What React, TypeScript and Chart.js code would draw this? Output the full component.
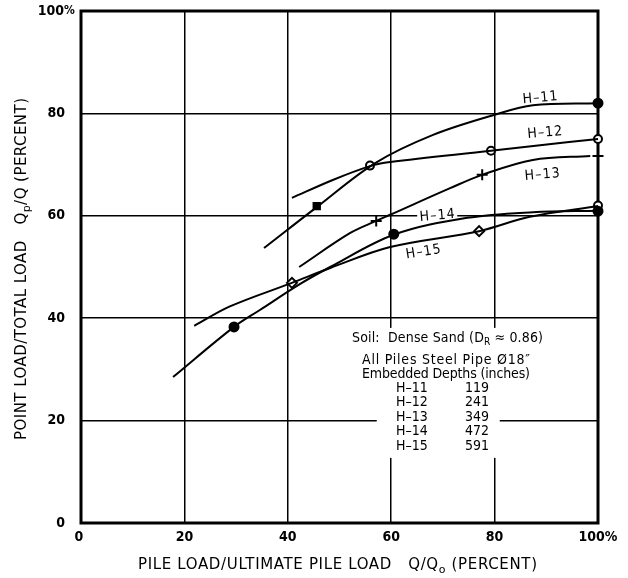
import React, { useEffect, useRef } from "react";
import { Chart, registerables } from "chart.js";
Chart.register(...registerables);

// ---- data (percent) ----
const xTickValues = [0, 20, 40, 60, 80, 100];
const xTickLabels = ["0", "20", "40", "60", "80", "100%"];
const yTickValues = [0, 20, 40, 60, 80, 100];
const yTickLabels = ["0", "20", "40", "60", "80", "100%"];

const seriesNames = ["H–11", "H–12", "H–13", "H–14", "H–15"];
const embeddedDepths = ["119", "241", "349", "472", "591"];

// curves
const h11X = [35.4, 45.6, 56.9, 68.1, 79.9, 87.4, 100];
const h11Y = [53.7, 61.7, 70.3, 75.8, 79.7, 81.6, 82.0];
const h12X = [40.8, 48.7, 55.9, 59.8, 79.3, 88.8, 100];
const h12Y = [63.5, 67.0, 69.7, 70.5, 72.7, 73.8, 75.0];
const h13X = [42.2, 52.0, 57.1, 59.8, 71.4, 77.6, 87.4, 98.5];
const h13Y = [50.0, 56.6, 59.0, 60.2, 65.4, 68.0, 70.9, 71.7];
const h14X = [17.8, 29.6, 34.6, 42.4, 48.2, 60.5, 74.7, 87.4, 100];
const h14Y = [28.5, 38.3, 41.6, 46.7, 50.0, 56.3, 59.6, 60.7, 61.0];
const h15X = [21.9, 28.8, 40.8, 48.2, 59.8, 77.0, 86.8, 100];
const h15Y = [38.5, 42.3, 46.9, 49.8, 53.9, 57.0, 59.8, 61.9];

// test points (markers)
const h11SquareX = [45.6];
const h11SquareY = [61.9];
const h11DotX = [100];
const h11DotY = [82.0];
const h12MarkX = [55.9, 79.3, 100];
const h12MarkY = [69.8, 72.7, 75.0];
const h13MarkX = [57.1, 77.6, 100];
const h13MarkY = [59.0, 68.0, 71.7];
const h14MarkX = [29.6, 60.5, 100];
const h14MarkY = [38.3, 56.4, 60.9];
const h15DiamondX = [40.8, 77.0];
const h15DiamondY = [46.9, 57.0];
const h15EndX = [100];
const h15EndY = [62.0];

const pts = (xs: number[], ys: number[]) => xs.map((x, i) => ({ x, y: ys[i] }));

const COND = "'DejaVu Sans Condensed', 'DejaVu Sans', sans-serif";
const WIDE = "'DejaVu Sans', sans-serif";

type Seg = { t: string; sub?: boolean };

function drawRich(
  ctx: CanvasRenderingContext2D,
  segs: Seg[],
  x: number,
  y: number,
  align: "left" | "center" | "right",
  size: number,
  weight = "normal",
  family = COND,
  target = 0
) {
  const f = (s: Seg) => `${weight} ${s.sub ? Math.round(size * 0.72) : size}px ${family}`;
  const c: any = ctx;
  c.letterSpacing = "0px";
  let nchars = 0;
  let natural = 0;
  segs.forEach((s) => {
    ctx.font = f(s);
    natural += ctx.measureText(s.t).width;
    nchars += [...s.t].length;
  });
  const sp = target > 0 ? (target - natural) / Math.max(1, nchars - 1) : 0;
  c.letterSpacing = `${sp}px`;
  const widths = segs.map((s) => {
    ctx.font = f(s);
    return ctx.measureText(s.t).width;
  });
  const total = widths.reduce((a, b) => a + b, 0) - sp;
  let cx = align === "center" ? x - total / 2 : align === "right" ? x - total : x;
  ctx.textAlign = "left";
  ctx.textBaseline = "middle";
  segs.forEach((s, i) => {
    ctx.font = f(s);
    ctx.fillText(s.t, cx, s.sub ? y + size * 0.35 : y);
    cx += widths[i];
  });
  c.letterSpacing = "0px";
  return total;
}

function maskRect(ctx: CanvasRenderingContext2D, cx: number, cy: number, w: number, h: number) {
  ctx.save();
  ctx.fillStyle = "#ffffff";
  ctx.fillRect(cx - w / 2, cy - h / 2, w, h);
  ctx.restore();
}

const curveLabels = [
  { name: 0, x: 88.8, y: 83.0, rot: -5 },
  { name: 1, x: 89.7, y: 76.2, rot: -5 },
  { name: 2, x: 89.2, y: 68.0, rot: -5 },
  { name: 3, x: 68.9, y: 60.0, rot: -5 },
  { name: 4, x: 66.2, y: 52.9, rot: -9 },
];

const decoPlugin = {
  id: "deco",
  beforeDatasetsDraw(chart: any) {
    const ctx: CanvasRenderingContext2D = chart.ctx;
    const xs = chart.scales.x;
    const ys = chart.scales.y;
    const a = chart.chartArea;
    // masks under curve labels
    curveLabels.forEach((l) => {
      maskRect(ctx, xs.getPixelForValue(l.x), ys.getPixelForValue(l.y), 40, 15);
    });
    // mask under the note block
    const top = ys.getPixelForValue(38.5);
    maskRect(ctx, xs.getPixelForValue(70.8), top + 25, 200, 46);
    maskRect(ctx, xs.getPixelForValue(69.1), top + 88, 123, 88);
    // frame
    ctx.save();
    ctx.strokeStyle = "#000";
    ctx.lineWidth = 3;
    ctx.strokeRect(a.left, a.top, a.right - a.left, a.bottom - a.top);
    ctx.restore();
  },
  afterDatasetsDraw(chart: any) {
    const ctx: CanvasRenderingContext2D = chart.ctx;
    const xs = chart.scales.x;
    const ys = chart.scales.y;
    const a = chart.chartArea;
    ctx.save();
    ctx.fillStyle = "#000";

    // y tick labels
    yTickValues.forEach((v, i) => {
      const py = ys.getPixelForValue(v);
      const lab = yTickLabels[i];
      if (lab.endsWith("%")) {
        drawRich(ctx, [{ t: lab.slice(0, -1) }], a.left - 17, py, "right", 14, "bold");
        drawRich(ctx, [{ t: "%" }], a.left - 17, py, "left", 12, "bold");
      } else {
        drawRich(ctx, [{ t: lab }], a.left - 16, py, "right", 14, "bold");
      }
    });
    // x tick labels
    xTickValues.forEach((v, i) => {
      const px = xs.getPixelForValue(v);
      drawRich(ctx, [{ t: xTickLabels[i] }], px - (i === 0 ? 2 : 0), a.bottom + 14, "center", 14, "bold");
    });

    // axis titles
    drawRich(
      ctx,
      [{ t: "PILE LOAD/ULTIMATE PILE LOAD   Q/Q" }, { t: "o", sub: true }, { t: " (PERCENT)" }],
      337.5,
      a.bottom + 42,
      "center",
      15,
      "normal",
      WIDE,
      399
    );
    ctx.save();
    ctx.translate(22, 269);
    ctx.rotate(-Math.PI / 2);
    drawRich(
      ctx,
      [{ t: "POINT LOAD/TOTAL LOAD   Q" }, { t: "p", sub: true }, { t: "/Q (PERCENT)" }],
      0,
      0,
      "center",
      15,
      "normal",
      WIDE,
      342
    );
    ctx.restore();

    // curve labels
    curveLabels.forEach((l) => {
      ctx.save();
      ctx.translate(xs.getPixelForValue(l.x), ys.getPixelForValue(l.y));
      ctx.rotate((l.rot * Math.PI) / 180);
      drawRich(ctx, [{ t: seriesNames[l.name] }], 0, 0, "center", 14, "normal", COND, 35);
      ctx.restore();
    });

    // note block
    const top = ys.getPixelForValue(38.5);
    drawRich(
      ctx,
      [{ t: "Soil:  Dense Sand (D" }, { t: "R", sub: true }, { t: " ≈ 0.86)" }],
      447.5,
      top + 12,
      "center",
      14,
      "normal",
      COND,
      191
    );
    drawRich(ctx, [{ t: "All Piles Steel Pipe Ø18″" }], 446, top + 34, "center", 14, "normal", COND, 168);
    drawRich(ctx, [{ t: "Embedded Depths (inches)" }], 446, top + 48, "center", 14, "normal", COND, 168);
    const c1 = xs.getPixelForValue(64);
    const c2 = xs.getPixelForValue(76.6);
    seriesNames.forEach((n, i) => {
      const py = top + 62 + i * 14.5;
      drawRich(ctx, [{ t: n }], c1, py, "center", 14, "normal", COND);
      drawRich(ctx, [{ t: embeddedDepths[i] }], c2, py, "center", 14, "normal", COND);
    });
    ctx.restore();
  },
};

export default function App() {
  const ref = useRef<HTMLCanvasElement | null>(null);
  useEffect(() => {
    document.body.style.margin = "0";
    const canvas = ref.current!;
    const curve = (xs: number[], ys: number[]) => ({
      type: "line" as const,
      data: pts(xs, ys),
      borderColor: "#000",
      borderWidth: 2,
      pointRadius: 0,
      tension: 0.35,
      fill: false,
      clip: 4,
    });
    const mark = (xs: number[], ys: number[], style: string, filled: boolean, r: number) => ({
      type: "scatter" as const,
      data: pts(xs, ys),
      pointStyle: style,
      pointRadius: r,
      pointBackgroundColor: filled ? "#000" : "#fff",
      pointBorderColor: "#000",
      pointBorderWidth: 2,
      showLine: false,
      clip: 10,
    });
    const chart = new Chart(canvas, {
      type: "line",
      data: {
        datasets: [
          curve(h11X, h11Y),
          curve(h12X, h12Y),
          curve(h13X, h13Y),
          curve(h14X, h14Y),
          curve(h15X, h15Y),
          mark(h11SquareX, h11SquareY, "rect", true, 4.5),
          mark(h11DotX, h11DotY, "circle", true, 4.5),
          mark(h12MarkX, h12MarkY, "circle", false, 4),
          mark(h13MarkX, h13MarkY, "cross", false, 5.5),
          mark(h14MarkX, h14MarkY, "circle", true, 4.5),
          mark(h15DiamondX, h15DiamondY, "rectRot", false, 5),
          mark(h15EndX, h15EndY, "circle", false, 4),
        ] as any,
      },
      options: {
        responsive: false,
        animation: false,
        events: [],
        layout: { padding: { left: 81, right: 30, top: 11, bottom: 55 } },
        plugins: { legend: { display: false }, tooltip: { enabled: false } },
        scales: {
          x: {
            type: "linear",
            min: 0,
            max: 100,
            ticks: { display: false, stepSize: 20 },
            grid: { color: "#000", lineWidth: 1.5, drawTicks: false },
            border: { display: false },
          },
          y: {
            type: "linear",
            min: 0,
            max: 100,
            ticks: { display: false, stepSize: 20 },
            grid: { color: "#000", lineWidth: 1.5, drawTicks: false },
            border: { display: false },
          },
        },
      },
      plugins: [decoPlugin],
    });
    return () => chart.destroy();
  }, []);
  return (
    <div style={{ width: 628, height: 578, background: "#fff" }}>
      <canvas ref={ref} width={628} height={578} />
    </div>
  );
}
